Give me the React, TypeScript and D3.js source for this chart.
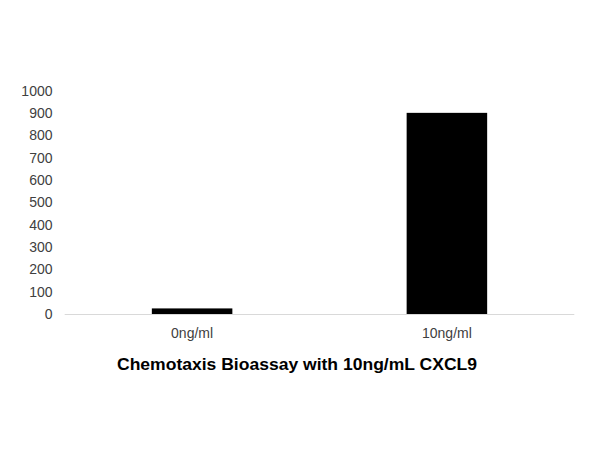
import React from "react";
import * as d3 from "d3";

const categories = ["0ng/ml", "10ng/ml"];
const values = [25, 900];
const yTicks = [0, 100, 200, 300, 400, 500, 600, 700, 800, 900, 1000];
const title = "Chemotaxis Bioassay with 10ng/mL CXCL9";

export default function App() {
  const width = 600;
  const height = 450;
  const x = d3
    .scaleBand<string>()
    .domain(categories)
    .range([64.7, 574.3])
    .paddingInner(0.684)
    .paddingOuter(0.342);
  const y = d3.scaleLinear().domain([0, 1000]).range([314, 90.5]);
  const font = "'Liberation Sans', Arial, sans-serif";

  return (
    <svg
      width={width}
      height={height}
      style={{ position: "absolute", left: 0, top: 0, background: "#fff" }}
    >
      <rect x={0} y={0} width={width} height={height} fill="#fff" />
      {yTicks.map((t) => (
        <text
          key={t}
          x={52.5}
          y={y(t)}
          dy="0.36em"
          textAnchor="end"
          fontFamily={font}
          fontSize={14}
          fill="#404040"
        >
          {t}
        </text>
      ))}
      {categories.map((c, i) => (
        <rect
          key={c}
          x={x(c)}
          y={y(values[i])}
          width={x.bandwidth()}
          height={y(0) - y(values[i])}
          fill="#000"
        />
      ))}
      <line
        x1={x.range()[0]}
        x2={x.range()[1]}
        y1={y(0) + 0.5}
        y2={y(0) + 0.5}
        stroke="#d9d9d9"
        strokeWidth={1}
      />
      {categories.map((c) => (
        <text
          key={c}
          x={(x(c) ?? 0) + x.bandwidth() / 2}
          y={338}
          textAnchor="middle"
          fontFamily={font}
          fontSize={14}
          fill="#404040"
        >
          {c}
        </text>
      ))}
      <text
        x={297}
        y={370}
        textAnchor="middle"
        fontFamily={font}
        fontSize={17}
        fontWeight="bold"
        fill="#000"
        textLength={360}
        lengthAdjust="spacingAndGlyphs"
      >
        {title}
      </text>
    </svg>
  );
}
